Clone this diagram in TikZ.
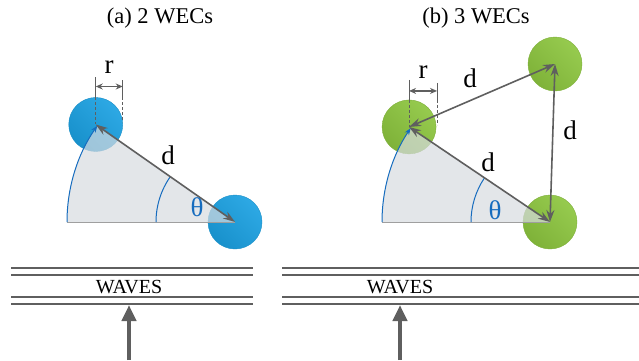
\documentclass[tikz,border=0pt]{standalone}
\usepackage{fontspec}
\setmainfont{Liberation Serif}
\usetikzlibrary{arrows.meta,calc}

\definecolor{wecblue}{RGB}{27,161,226}
\definecolor{wecgreen}{RGB}{141,198,63}
\definecolor{sectorgray}{RGB}{215,219,224}
\definecolor{linegray}{RGB}{95,95,95}
\definecolor{anglblue}{RGB}{22,108,190}

\begin{document}
\begin{tikzpicture}[x=1pt,y=1pt,
    wec/.style={circle,minimum size=54pt,inner sep=0pt,draw=#1!88!black,line width=0.4pt,
        top color=#1!92!white,bottom color=#1!90!black,shading angle=-45},
    dist/.style={{Stealth[length=12pt,width=8pt]}-{Stealth[length=12pt,width=8pt]},draw=linegray,line width=1.6pt},
    dimline/.style={draw=linegray,line width=0.9pt},
    dimarrow/.style={{Stealth[length=7pt,width=6pt]}-{Stealth[length=7pt,width=6pt]},draw=linegray,line width=1.2pt},
    waveline/.style={draw=linegray,line width=1.2pt},
    wavearrow/.style={-{Triangle[length=16pt,width=14pt]},draw=linegray,line width=4.5pt},
    lbl/.style={font=\fontsize{27}{30}\selectfont,inner sep=0pt},
    title/.style={font=\fontsize{22.5}{26}\selectfont,inner sep=0pt}]
    \useasboundingbox (0,0) rectangle (639,360);

    % Titles
    \node[title] (ta) at (160,342) {(a) 2 WECs};
    \node[title] (tb) at (476,342) {(b) 3 WECs};

    % (a) two WECs
    \node[wec=wecblue] (b1) at (235,138) {};
    \node[wec=wecblue] (a1) at ($(b1)+(145:170)$) {};
    \fill[sectorgray,opacity=0.7] (b1.center) -- +(180:168) arc[start angle=180,end angle=145,radius=168] -- cycle;
    \draw[draw=linegray!60,line width=0.8pt] (b1.center) -- +(180:168);
    \draw[anglblue,line width=1pt,-{Stealth[length=7pt,width=5pt]}] ($(b1.center)+(180:168)$) arc[start angle=180,end angle=145,radius=168];
    \draw[anglblue,line width=1pt] ($(b1.center)+(180:79)$) arc[start angle=180,end angle=145,radius=79];
    \draw[dist] (a1.center) -- (b1.center);
    \node[lbl] (d1) at (168,205) {d};
    \node[lbl,text=anglblue] (th1) at (197,153) {θ};
    % radius mark
    \draw[dimline] ($(a1.center)+(0,47)$) -- ($(a1.center)+(0,27)$);
    \draw[dimline,densely dashed] ($(a1.center)+(0,27)$) -- (a1.center);
    \draw[dimline] ($(a1.center)+(27,44)$) -- ($(a1.center)+(27,27)$);
    \draw[dimline,densely dashed] ($(a1.center)+(27,27)$) -- ($(a1.center)+(27,2)$);
    \draw[dimarrow] ($(a1.center)+(0,38)$) -- ($(a1.center)+(27,38)$);
    \node[lbl] (r1) at ($(a1.center)+(13.5,57)$) {r};

    % (b) three WECs
    \node[wec=wecgreen] (b2) at (550,138) {};
    \node[wec=wecgreen] (a2) at ($(b2)+(146:170)$) {};
    \node[wec=wecgreen] (c2) at (555,296) {};
    \fill[sectorgray,opacity=0.7] (b2.center) -- +(180:168) arc[start angle=180,end angle=146,radius=168] -- cycle;
    \draw[draw=linegray!60,line width=0.8pt] (b2.center) -- +(180:168);
    \draw[anglblue,line width=1pt,-{Stealth[length=7pt,width=5pt]}] ($(b2.center)+(180:168)$) arc[start angle=180,end angle=146,radius=168];
    \draw[anglblue,line width=1pt] ($(b2.center)+(180:79)$) arc[start angle=180,end angle=146,radius=79];
    \draw[dist] (a2.center) -- (b2.center);
    \draw[dist] (a2.center) -- (c2.center);
    \draw[dist] (c2.center) -- (b2.center);
    \node[lbl] (d2) at (488,198) {d};
    \node[lbl] (d3) at (470,282) {d};
    \node[lbl] (d4) at (570,230) {d};
    \node[lbl,text=anglblue] (th2) at (495,150) {θ};
    % radius mark
    \draw[dimline] ($(a2.center)+(0,47)$) -- ($(a2.center)+(0,27)$);
    \draw[dimline,densely dashed] ($(a2.center)+(0,27)$) -- (a2.center);
    \draw[dimline] ($(a2.center)+(28,44)$) -- ($(a2.center)+(28,27)$);
    \draw[dimline,densely dashed] ($(a2.center)+(28,27)$) -- ($(a2.center)+(28,2)$);
    \draw[dimarrow] ($(a2.center)+(0,36)$) -- ($(a2.center)+(28,36)$);
    \node[lbl] (r2) at ($(a2.center)+(14,55)$) {r};

    % Waves
    \foreach \y in {92,85,63,56} {
        \draw[waveline] (11,\y) -- (253,\y);
        \draw[waveline] (282,\y) -- (639,\y);
    }
    \node[lbl,font=\fontsize{20}{22}\selectfont] (w1) at (129,73) {WAVES};
    \node[lbl,font=\fontsize{20}{22}\selectfont] (w2) at (400,73) {WAVES};
    \coordinate (s1) at (129,0);
    \coordinate (t1) at (129,55);
    \coordinate (s2) at (400,0);
    \coordinate (t2) at (400,55);
    \draw[wavearrow] (s1) -- (t1);
    \draw[wavearrow] (s2) -- (t2);
\end{tikzpicture}
\end{document}
